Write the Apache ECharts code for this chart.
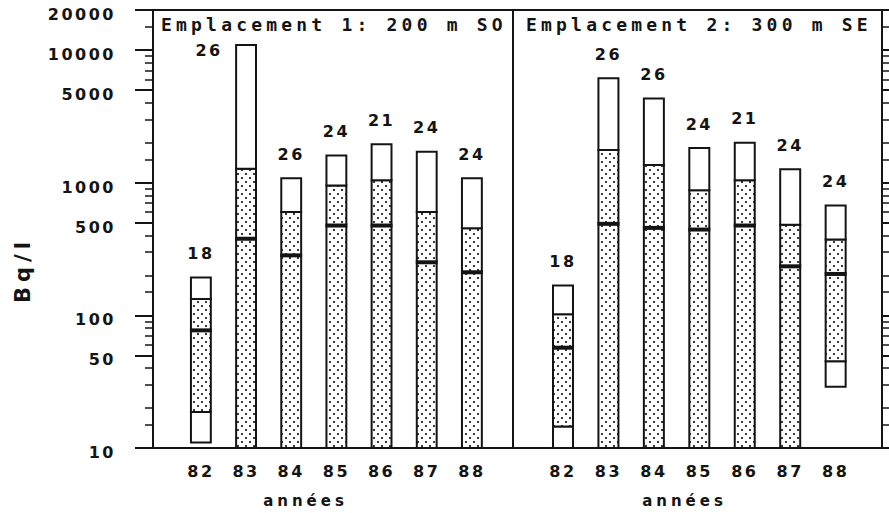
<!DOCTYPE html>
<html>
<head>
<meta charset="utf-8">
<script src="https://cdn.jsdelivr.net/npm/echarts@6/dist/echarts.min.js"></script>
<style>
html, body { margin: 0; padding: 0; background: #fff; }
#chart { width: 889px; height: 513px; }
#chart text { letter-spacing: 5px; }
#chart text[style*="18px"] { letter-spacing: 4.2px; }
#chart text[style*="16px"] { letter-spacing: 2.5px; }
#chart text[style*="15px"] { letter-spacing: 4px; }
</style>
</head>
<body>
<div id="chart"></div>
<script>
// ---- data ----
const years = [82, 83, 84, 85, 86, 87, 88];
const site1Title = 'Emplacement 1: 200 m SO';
const site2Title = 'Emplacement 2: 300 m SE';
const xName = 'années';
const yName = 'Bq/l';

const site1Max    = [193, 10900, 1080, 1600, 1950, 1710, 1080];
const site1Q3     = [133, 1270, 600, 950, 1040, 600, 453];
const site1Median = [77, 377, 283, 475, 475, 251, 211];
const site1Q1     = [18.7, 10, 10, 10, 10, 10, 10];
const site1Min    = [11, 10, 10, 10, 10, 10, 10];
const site1Count  = [18, 26, 26, 24, 21, 24, 24];

const site2Max    = [168, 6120, 4300, 1820, 2000, 1260, 673];
const site2Q3     = [102, 1760, 1360, 878, 1040, 481, 372];
const site2Median = [57, 489, 456, 443, 475, 234, 205];
const site2Q1     = [14.5, 10, 10, 10, 10, 10, 45];
const site2Min    = [10, 10, 10, 10, 10, 10, 29];
const site2Count  = [18, 26, 26, 24, 21, 24, 24];

const yMajorTicks = [10, 50, 100, 500, 1000, 5000, 10000, 20000];
const yMinorTicks = [15, 20, 30, 40, 60, 70, 80, 90,
                     150, 200, 300, 400, 600, 700, 800, 900,
                     1500, 2000, 3000, 4000, 6000, 7000, 8000, 9000, 15000];

// ---- helpers ----
const INK = '#141414';
const MONO = '"DejaVu Sans Mono", "Liberation Mono", monospace';
const SANS = '"DejaVu Sans", "Liberation Sans", sans-serif';

function rows(mins, q1s, meds, q3s, maxs, counts) {
  return years.map((y, i) => [y, mins[i], q1s[i], meds[i], q3s[i], maxs[i], counts[i]]);
}

function makeDots() {
  const c = document.createElement('canvas');
  c.width = 8; c.height = 8;
  const g = c.getContext('2d');
  g.fillStyle = '#ffffff'; g.fillRect(0, 0, 8, 8);
  g.fillStyle = '#3a3a3a';
  g.fillRect(1, 1, 2, 2);
  g.fillRect(5, 5, 2, 2);
  return c;
}
const dotCanvas = makeDots();
const dotPattern = { image: dotCanvas, repeat: 'repeat', imageWidth: 8, imageHeight: 8 };

function renderBox(params, api) {
  const x = api.value(0);
  const vMin = api.value(1), vQ1 = api.value(2), vMed = api.value(3),
        vQ3 = api.value(4), vMax = api.value(5), n = api.value(6);
  const w = api.size([1, 0])[0] * 0.44;
  const pMax = api.coord([x, vMax]);
  const pQ3 = api.coord([x, vQ3]);
  const pMed = api.coord([x, vMed]);
  const pQ1 = api.coord([x, vQ1]);
  const pMin = api.coord([x, vMin]);
  const cx = pMax[0], x0 = cx - w / 2;
  const children = [];
  if (pMin[1] - pQ1[1] > 0.5) {
    children.push({ type: 'rect', shape: { x: x0, y: pQ1[1], width: w, height: pMin[1] - pQ1[1] },
      style: { fill: '#fff', stroke: INK, lineWidth: 2 } });
  }
  children.push({ type: 'rect', shape: { x: x0, y: pQ3[1], width: w, height: pQ1[1] - pQ3[1] },
    style: { fill: dotPattern, stroke: INK, lineWidth: 2 } });
  children.push({ type: 'rect', shape: { x: x0, y: pMax[1], width: w, height: pQ3[1] - pMax[1] },
    style: { fill: '#fff', stroke: INK, lineWidth: 2 } });
  children.push({ type: 'rect', shape: { x: x0 - 1, y: pMed[1] - 2, width: w + 2, height: 4 },
    style: { fill: INK } });
  const top = params.coordSys.y;
  let lx = cx, ly = pMax[1] - 24;
  if (ly - 8 < top + 25) { lx = cx - 37; ly = pMax[1] + 6; }
  children.push({ type: 'text', x: lx, y: ly,
    style: { text: String(n), fill: INK, font: 'bold 16px ' + SANS, align: 'center', verticalAlign: 'middle' } });
  return { type: 'group', children };
}

const numLabel = { color: INK, fontFamily: SANS, fontWeight: 'bold', fontSize: 16 };

function xAxisCfg(gridIndex, min, max, namePadRight) {
  return {
    type: 'value', gridIndex, min, max,
    axisLine: { show: true, lineStyle: { color: INK, width: 2 } },
    axisTick: { show: false },
    splitLine: { show: false },
    axisLabel: Object.assign({ customValues: years, formatter: v => String(v), margin: 15 }, numLabel),
    name: xName, nameLocation: 'middle', nameGap: 45,
    nameTextStyle: { color: INK, fontFamily: SANS, fontWeight: 'bold', fontSize: 15, padding: [0, namePadRight, 0, 0] }
  };
}

function yMajor(gridIndex, position, withLabels) {
  const cfg = {
    type: 'log', logBase: 10, min: 10, max: 20000, gridIndex, position,
    axisLine: { show: true, lineStyle: { color: INK, width: 2 } },
    axisTick: { show: true, customValues: yMajorTicks, length: 18, lineStyle: { color: INK, width: 2 } },
    splitLine: { show: false },
    axisLabel: withLabels
      ? Object.assign({ customValues: yMajorTicks, margin: 37, verticalAlign: 'top', lineHeight: 9,
          formatter: v => String(v) }, numLabel)
      : { show: false }
  };
  if (withLabels) {
    cfg.name = yName;
    cfg.nameLocation = 'middle';
    cfg.nameGap = 120;
    cfg.nameTextStyle = { color: INK, fontFamily: SANS, fontWeight: 'bold', fontSize: 21, padding: [0, 82, 0, 0] };
  }
  return cfg;
}
function yMinor(gridIndex, position) {
  return {
    type: 'log', logBase: 10, min: 10, max: 20000, gridIndex, position,
    axisLine: { show: false },
    axisTick: { show: true, customValues: yMinorTicks, length: 8, lineStyle: { color: INK, width: 1.5 } },
    splitLine: { show: false },
    axisLabel: { show: false }
  };
}

const chart = echarts.init(document.getElementById('chart'), null, { renderer: 'svg' });
chart.setOption({
  animation: false,
  backgroundColor: '#fff',
  title: [
    { text: site1Title, left: 161, top: 15, padding: 0,
      textStyle: { color: INK, fontFamily: MONO, fontWeight: 'bold', fontSize: 18 } },
    { text: site2Title, left: 526, top: 15, padding: 0,
      textStyle: { color: INK, fontFamily: MONO, fontWeight: 'bold', fontSize: 18 } }
  ],
  grid: [
    { left: 153, top: 10, width: 360, height: 438, show: true, borderColor: INK, borderWidth: 2, outerBoundsMode: 'none' },
    { left: 513, top: 10, width: 369, height: 438, show: true, borderColor: INK, borderWidth: 2, outerBoundsMode: 'none' }
  ],
  xAxis: [
    xAxisCfg(0, 80.94, 88.91, 55),
    xAxisCfg(1, 80.90, 89.02, 26)
  ],
  yAxis: [
    yMajor(0, 'left', true),
    yMinor(0, 'left'),
    yMajor(1, 'right', false),
    yMinor(1, 'right')
  ],
  series: [
    { type: 'custom', name: site1Title, xAxisIndex: 0, yAxisIndex: 0,
      encode: { x: 0, y: [1, 2, 3, 4, 5] },
      renderItem: renderBox,
      data: rows(site1Min, site1Q1, site1Median, site1Q3, site1Max, site1Count) },
    { type: 'custom', name: site2Title, xAxisIndex: 1, yAxisIndex: 2,
      encode: { x: 0, y: [1, 2, 3, 4, 5] },
      renderItem: renderBox,
      data: rows(site2Min, site2Q1, site2Median, site2Q3, site2Max, site2Count) }
  ]
});
</script>
</body>
</html>
